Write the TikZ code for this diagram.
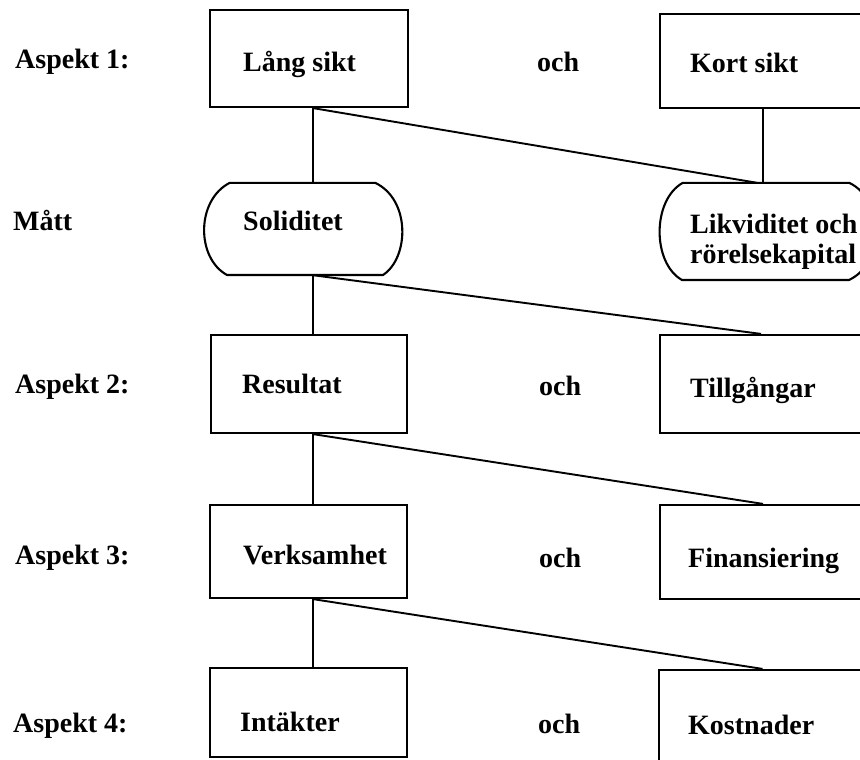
\documentclass[tikz,border=0pt]{standalone}
\usepackage{fontspec}
\setmainfont{Liberation Serif}
\begin{document}
\begin{tikzpicture}[x=1pt,y=-1pt,
  frame/.style={draw, line width=2.2pt, inner sep=0pt},
  hold/.style={inner sep=0pt},
  lbl/.style={anchor=base west, inner sep=0pt, font=\bfseries\fontsize{28}{30}\selectfont},
  conn/.style={line width=1.9pt},
  outline/.style={line width=2.1pt, line join=round}]
\useasboundingbox[fill=white] (0,0) rectangle (860,760);
\coordinate (spine) at (313,0);

% rectangles
\node[frame, minimum width=198pt, minimum height=97pt] (lang) at (309,58.5) {};
\node[frame, minimum width=206pt, minimum height=94pt] (kort) at (763,61) {};
\node[frame, minimum width=196pt, minimum height=98pt] (res)  at (309,384) {};
\node[frame, minimum width=206pt, minimum height=98pt] (till) at (763,384) {};
\node[frame, minimum width=197pt, minimum height=93pt] (verk) at (308.5,551.5) {};
\node[frame, minimum width=206pt, minimum height=94pt] (fin)  at (763,552) {};
\node[frame, minimum width=197pt, minimum height=89pt] (int)  at (308.5,712.5) {};
\node[frame, minimum width=207pt, minimum height=92pt] (kost) at (762.5,716) {};

% measure shapes
\node[hold, minimum width=145pt, minimum height=92pt] (sol) at (302.5,229) {};
\draw[outline] (sol.north west) -- (sol.north east)
  .. controls (411,200) and (409,258) .. (383,275)
  -- (227,275)
  .. controls (196,258) and (196,200) .. (sol.north west) -- cycle;
\node[hold, minimum width=166pt, minimum height=97pt] (lik) at (766,231.5) {};
\draw[outline] (lik.north west) -- (lik.north east)
  .. controls (885,200) and (885,263) .. (849,280)
  -- (682,280)
  .. controls (652,263) and (652,200) .. (lik.north west) -- cycle;

% connectors
\draw[conn] (lang.south -| spine) -- (sol.north -| spine);
\draw[conn] (lang.south -| spine) -- ([xshift=-9pt]lik.north);
\draw[conn] (kort.south) -- (lik.north -| kort.south);
\draw[conn] (sol.south -| spine) -- (res.north -| spine);
\draw[conn] (sol.south -| spine) -- ([xshift=-2pt]till.north);
\draw[conn] (res.south -| spine) -- (verk.north -| spine);
\draw[conn] (res.south -| spine) -- (fin.north);
\draw[conn] (verk.south -| spine) -- (int.north -| spine);
\draw[conn] (verk.south -| spine) -- (kost.north);

% texts
\node[lbl] (a1) at (15,69) {Aspekt 1:};
\node[lbl] (langT) at (243,71) {Lång sikt};
\node[lbl] (och1) at (537,72) {och};
\node[lbl] (kortT) at (690,73) {Kort sikt};

\node[lbl] (matt) at (13,230) {Mått};
\node[lbl] (solT) at (243,230) {Soliditet};
\node[lbl, anchor=west, align=left] (likT) at (690,241.5) {Likviditet och\\rörelsekapital};

\node[lbl] (a2) at (15,393) {Aspekt 2:};
\node[lbl] (resT) at (242,393) {Resultat};
\node[lbl] (och2) at (539,395) {och};
\node[lbl] (tillT) at (690,397) {Tillgångar};

\node[lbl] (a3) at (15,564) {Aspekt 3:};
\node[lbl] (verkT) at (243,564) {Verksamhet};
\node[lbl] (och3) at (539,567) {och};
\node[lbl] (finT) at (688,567) {Finansiering};

\node[lbl] (a4) at (13,732) {Aspekt 4:};
\node[lbl] (intT) at (240,731) {Intäkter};
\node[lbl] (och4) at (538,733) {och};
\node[lbl] (kostT) at (688,734) {Kostnader};
\end{tikzpicture}
\end{document}
